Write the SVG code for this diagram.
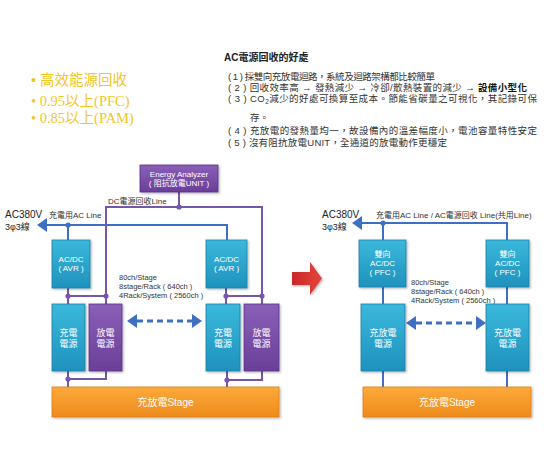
<svg xmlns="http://www.w3.org/2000/svg" width="544" height="450" viewBox="0 0 544 450">
<defs>
<linearGradient id="teal" x1="0" y1="0" x2="0" y2="1"><stop offset="0" stop-color="#3bb8dc"/><stop offset="1" stop-color="#1e92bd"/></linearGradient>
<linearGradient id="purple" x1="0" y1="0" x2="0" y2="1"><stop offset="0" stop-color="#8a5fb8"/><stop offset="1" stop-color="#6a3f98"/></linearGradient>
<linearGradient id="orange" x1="0" y1="0" x2="0" y2="1"><stop offset="0" stop-color="#fbaa3a"/><stop offset="1" stop-color="#ee8a1c"/></linearGradient>
<linearGradient id="red" x1="0" y1="0" x2="1" y2="0"><stop offset="0" stop-color="#c8282a"/><stop offset="1" stop-color="#e5453a"/></linearGradient>
<filter id="sh" x="-10%" y="-10%" width="130%" height="130%"><feDropShadow dx="1.2" dy="1.2" stdDeviation="0.8" flood-color="#000" flood-opacity="0.3"/></filter>
</defs>
<style>
.t{font-family:"Liberation Sans","Noto Sans CJK TC",sans-serif;fill:#333}
.w{font-family:"Liberation Sans","Noto Sans CJK TC",sans-serif;fill:#fff;text-anchor:middle}
.y{fill:#f4c61c;font-size:14.5px}
.ys{font-family:"Liberation Sans","Noto Sans CJK TC",sans-serif}
.yr{font-family:"Liberation Serif","Noto Sans CJK TC",serif}
.tb{fill:url(#teal);stroke:#1a7fa6;stroke-width:0.8;filter:url(#sh)}
.pb{fill:url(#purple);stroke:#5a3185;stroke-width:0.8;filter:url(#sh)}
.ob{fill:url(#orange);stroke:#e07d14;stroke-width:0.8;filter:url(#sh)}
.ac{stroke:#3f6fc2;stroke-width:2;fill:none}
.dc{stroke:#7656a8;stroke-width:2;fill:none}
.dA{fill:#3f6fc2}
.dD{fill:#7656a8}
.dash{stroke:#3f6fc2;stroke-width:3;stroke-dasharray:6 4;fill:none}
</style>

<g id="bullets">
<text class="y ys" x="31" y="85">• 高效能源回收</text>
<text class="y yr" x="31" y="106">• 0.95以上(PFC)</text>
<text class="y yr" x="31" y="123">• 0.85以上(PAM)</text>
</g>

<g id="benefits" class="t" font-size="9.5">
<text x="224" y="61" font-size="10" font-weight="bold" fill="#222">AC電源回收的好處</text>
<text x="228" y="80" textLength="207" lengthAdjust="spacing">( 1 ) 採雙向充放電迴路，系統及迴路架構都比較簡單</text>
<text x="228" y="91" textLength="299" lengthAdjust="spacing">( 2 ) 回收效率高 → 發熱減少 → 冷卻/散熱裝置的減少 → <tspan font-weight="bold" fill="#111">設備小型化</tspan></text>
<text x="228" y="102" textLength="309" lengthAdjust="spacing">( 3 ) CO<tspan font-size="6.5" dy="2">2</tspan><tspan dy="-2">減少的好處可換算至成本。節能省碳量之可視化，其記錄可保</tspan></text>
<text x="250" y="121">存。</text>
<text x="228" y="134" textLength="309" lengthAdjust="spacing">( 4 ) 充放電的發熱量均一，故設備內的溫差幅度小，電池容量特性安定</text>
<text x="228" y="146" textLength="219" lengthAdjust="spacing">( 5 ) 沒有阻抗放電UNIT，全通道的放電動作更穩定</text>
</g>

<g id="connectors">
<polyline class="ac" points="44,225 227,225 227,240"/>
<polygon class="dA" points="37,225 47,218 47,232"/>
<line class="ac" x1="68" y1="225" x2="68" y2="240"/>
<circle class="dA" cx="68" cy="225" r="2.6"/>
<polyline class="dc" points="106,296 106,207 262,207 262,304"/>
<line class="dc" x1="179" y1="192" x2="179" y2="207"/>
<circle class="dD" cx="179" cy="207" r="2.6"/>
<line class="dc" x1="68" y1="288" x2="68" y2="304"/>
<line class="dc" x1="68" y1="296" x2="106" y2="296"/>
<line class="dc" x1="106" y1="296" x2="106" y2="304"/>
<circle class="dD" cx="68" cy="296" r="2.6"/>
<circle class="dD" cx="106" cy="296" r="2.6"/>
<line class="dc" x1="226" y1="288" x2="226" y2="304"/>
<line class="dc" x1="226" y1="296" x2="262" y2="296"/>
<circle class="dD" cx="226" cy="296" r="2.6"/>
<circle class="dD" cx="262" cy="296" r="2.6"/>
<polyline class="dc" points="106,371 106,379 68,379"/>
<line class="dc" x1="68" y1="371" x2="68" y2="387"/>
<circle class="dD" cx="68" cy="379" r="2.6"/>
<polyline class="dc" points="262,371 262,380 227,380"/>
<line class="dc" x1="227" y1="371" x2="227" y2="387"/>
<circle class="dD" cx="227" cy="380" r="2.6"/>
<line class="dash" x1="137" y1="321" x2="192" y2="321"/>
<polygon class="dA" points="127,321 137,314 137,328"/>
<polygon class="dA" points="202,321 192,314 192,328"/>

<polyline class="ac" points="360,223 507,223 507,240"/>
<polygon class="dA" points="352,223 362,216 362,230"/>
<line class="ac" x1="383" y1="223" x2="383" y2="240"/>
<circle class="dA" cx="383" cy="223" r="2.6"/>
<line class="ac" x1="383" y1="287" x2="383" y2="304"/>
<line class="ac" x1="507" y1="287" x2="507" y2="304"/>
<line class="ac" x1="383" y1="371" x2="383" y2="387"/>
<line class="ac" x1="507" y1="371" x2="507" y2="387"/>
<line class="dash" x1="416" y1="323" x2="476" y2="323"/>
<polygon class="dA" points="406,323 416,316 416,330"/>
<polygon class="dA" points="486,323 476,316 476,330"/>
</g>

<g id="left-labels" class="t">
<text x="5" y="218" font-size="10" fill="#222">AC380V</text>
<text x="5" y="230" font-size="9" fill="#222">3φ3線</text>
<text x="49" y="218" font-size="8">充電用AC Line</text>
<text x="108" y="204" font-size="8">DC電源回收Line</text>
<text x="119" y="280" font-size="7.5">80ch/Stage</text>
<text x="119" y="289" font-size="7.5">8stage/Rack ( 640ch )</text>
<text x="119" y="298" font-size="7.5">4Rack/System ( 2560ch )</text>
</g>

<g id="energy-analyzer">
<rect class="pb" x="140" y="165" width="78" height="27"/>
<text class="w" x="179" y="177" font-size="8">Energy Analyzer</text>
<text class="w" x="179" y="186" font-size="8">( 阻抗放電UNIT )</text>
</g>
<g id="acdc-avr-1">
<rect class="tb" x="52" y="240" width="38" height="48"/>
<text class="w" x="71" y="262" font-size="8">AC/DC</text>
<text class="w" x="71" y="271" font-size="8">( AVR )</text>
</g>
<g id="acdc-avr-2">
<rect class="tb" x="206" y="240" width="41" height="48"/>
<text class="w" x="226.5" y="262" font-size="8">AC/DC</text>
<text class="w" x="226.5" y="271" font-size="8">( AVR )</text>
</g>
<g id="charge-1">
<rect class="tb" x="52" y="304" width="33" height="67"/>
<text class="w" x="68.5" y="336" font-size="9">充電</text>
<text class="w" x="68.5" y="347" font-size="9">電源</text>
</g>
<g id="discharge-1">
<rect class="pb" x="89" y="304" width="33" height="67"/>
<text class="w" x="105.5" y="336" font-size="9">放電</text>
<text class="w" x="105.5" y="347" font-size="9">電源</text>
</g>
<g id="charge-2">
<rect class="tb" x="206" y="304" width="34" height="67"/>
<text class="w" x="223" y="336" font-size="9">充電</text>
<text class="w" x="223" y="347" font-size="9">電源</text>
</g>
<g id="discharge-2">
<rect class="pb" x="244" y="304" width="35" height="67"/>
<text class="w" x="261.5" y="336" font-size="9">放電</text>
<text class="w" x="261.5" y="347" font-size="9">電源</text>
</g>
<g id="stage-left">
<rect class="ob" x="52" y="387" width="227" height="30"/>
<text class="w" x="165.5" y="406" font-size="10">充放電Stage</text>
</g>

<g id="transition-arrow">
<polygon fill="url(#red)" points="292,272 310,272 310,262 322,278.5 310,295 310,285 292,285" filter="url(#sh)"/>
</g>

<g id="right-labels" class="t">
<text x="322" y="218" font-size="10" fill="#222">AC380V</text>
<text x="322" y="230" font-size="9" fill="#222">3φ3線</text>
<text x="376" y="218" font-size="8">充電用AC Line / AC電源回收 Line(共用Line)</text>
<text x="411" y="285" font-size="7.5">80ch/Stage</text>
<text x="411" y="294" font-size="7.5">8stage/Rack ( 640ch )</text>
<text x="411" y="303" font-size="7.5">4Rack/System ( 2560ch )</text>
</g>
<g id="bidir-acdc-1">
<rect class="tb" x="359" y="240" width="47" height="47"/>
<text class="w" x="382.5" y="257" font-size="8">雙向</text>
<text class="w" x="382.5" y="266" font-size="8">AC/DC</text>
<text class="w" x="382.5" y="275" font-size="8">( PFC )</text>
</g>
<g id="bidir-acdc-2">
<rect class="tb" x="486" y="240" width="43" height="47"/>
<text class="w" x="507.5" y="257" font-size="8">雙向</text>
<text class="w" x="507.5" y="266" font-size="8">AC/DC</text>
<text class="w" x="507.5" y="275" font-size="8">( PFC )</text>
</g>
<g id="chgdis-1">
<rect class="tb" x="361" y="304" width="44" height="67"/>
<text class="w" x="383" y="336" font-size="9">充放電</text>
<text class="w" x="383" y="347" font-size="9">電源</text>
</g>
<g id="chgdis-2">
<rect class="tb" x="486" y="304" width="43" height="67"/>
<text class="w" x="507.5" y="336" font-size="9">充放電</text>
<text class="w" x="507.5" y="347" font-size="9">電源</text>
</g>
<g id="stage-right">
<rect class="ob" x="363" y="387" width="168" height="30"/>
<text class="w" x="447" y="406" font-size="10">充放電Stage</text>
</g>
</svg>
